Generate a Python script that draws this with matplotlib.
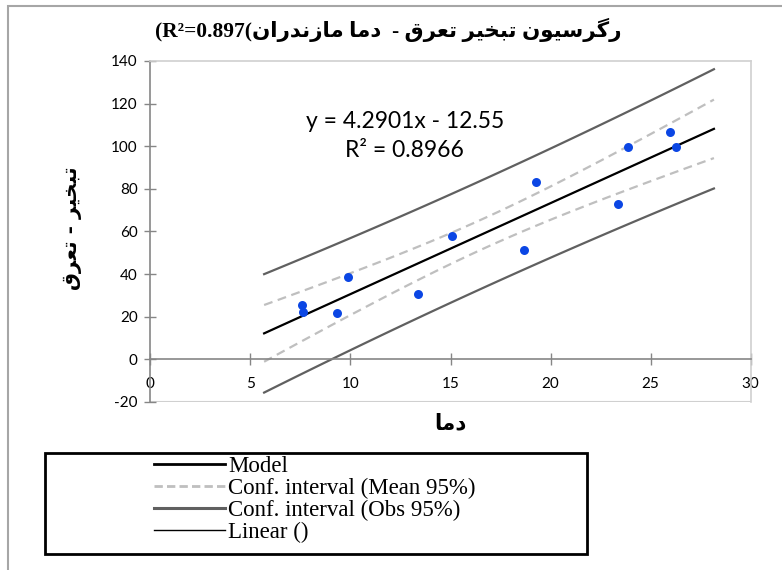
import numpy as np
import matplotlib.pyplot as plt
from matplotlib.lines import Line2D
from matplotlib.patches import Rectangle

plt.rcParams["axes.unicode_minus"] = False

# data (temperature vs evapotranspiration)
temp = [7.56, 7.64, 9.31, 9.88, 13.37, 15.07, 18.67, 19.27, 23.38, 23.88, 25.96, 26.29]
evap = [25.5, 22.3, 21.7, 38.6, 30.6, 57.9, 51.3, 83.2, 72.7, 99.8, 106.5, 99.8]

x_ticks = [0, 5, 10, 15, 20, 25, 30]
y_ticks = [-20, 0, 20, 40, 60, 80, 100, 120, 140]

eq_text = "y = 4.2901x - 12.55"
r2_text = "R² = 0.8966"
legend_labels = ["Model", "Conf. interval (Mean 95%)", "Conf. interval (Obs 95%)", "Linear ()"]

# persian words in presentation forms, visual order (left to right)
w_mazandaran = "\uFEE5\uFE8D\uFEAD\uFEAA\uFEE7\uFEAF\uFE8E\uFEE3"
w_dama = "\uFE8E\uFEE3\uFEA9"
w_taraq = "\uFED5\uFEAE\uFECC\uFE97"
w_tabkhir = "\uFEAE\uFEF4\uFEA8\uFE92\uFE97"
w_regresion = "\uFEE5\uFEEE\uFEF4\uFEB3\uFEAE\uFB94\uFEAD"

title = "(R²=0.897(" + w_mazandaran + " " + w_dama + "  - " + w_taraq + " " + w_tabkhir + " " + w_regresion
ylabel = w_taraq + " - " + w_tabkhir
xlabel = w_dama

# regression + confidence bands
x = np.array(temp)
y = np.array(evap)
n = len(x)
b, a = np.polyfit(x, y, 1)
resid = y - (a + b * x)
s = np.sqrt(np.sum(resid ** 2) / (n - 2))
sxx = np.sum((x - x.mean()) ** 2)
t = 2.228  # t(0.975, 10)
rng = x.max() - x.min()
xs = np.linspace(x.min() - 0.1 * rng, x.max() + 0.1 * rng, 100)
ys = a + b * xs
se_mean = s * np.sqrt(1 / n + (xs - x.mean()) ** 2 / sxx)
se_obs = s * np.sqrt(1 + 1 / n + (xs - x.mean()) ** 2 / sxx)

W, H = 782, 570
fig = plt.figure(figsize=(W / 100, H / 100), dpi=100)
ax = fig.add_axes([150.3 / W, 1 - 401.9 / H, (750.7 - 150.3) / W, (401.9 - 61) / H])

light = "#bfbfbf"
dark = "#606060"
ax.plot(xs, ys + t * se_obs, color=dark, lw=1.6, zorder=2)
ax.plot(xs, ys - t * se_obs, color=dark, lw=1.6, zorder=2)
ax.plot(xs, ys + t * se_mean, color=light, lw=1.6, ls=(0, (4, 2.5)), zorder=2)
ax.plot(xs, ys - t * se_mean, color=light, lw=1.6, ls=(0, (4, 2.5)), zorder=2)
ax.plot(xs, ys, color="black", lw=1.6, zorder=3)
ax.plot(xs, ys, color="black", lw=0.6, zorder=3)
ax.scatter(x, y, s=42, color="#0b46e4", zorder=4, linewidths=0)

ax.set_xlim(0, 30)
ax.set_ylim(-20, 140)
ax.set_xticks(x_ticks)
ax.set_yticks(y_ticks)

axis_col = "#868686"
ax.spines["bottom"].set_position(("data", 0))
ax.spines["bottom"].set_color(axis_col)
ax.spines["left"].set_color(axis_col)
ax.spines["top"].set_color("#d0d0d0")
ax.spines["right"].set_color("#d0d0d0")
ax.axhline(-20, color="#d0d0d0", lw=1.5, zorder=1)
for sp in ax.spines.values():
    sp.set_linewidth(1.2)
ax.tick_params(direction="inout", length=8, width=1, color=axis_col,
               labelsize=11, labelcolor="black")
ax.tick_params(axis="x", pad=9)
ax.tick_params(axis="y", pad=5)
for lab in ax.get_xticklabels() + ax.get_yticklabels():
    lab.set_fontfamily("Lato")

ax.text(0.424, 0.822, eq_text, transform=ax.transAxes, ha="center", va="center",
        fontsize=16.5, family="Lato")
ax.text(0.424, 0.737, r2_text, transform=ax.transAxes, ha="center", va="center",
        fontsize=16.5, family="Lato")

fig.text(388 / W, 1 - 30 / H, title, ha="center", va="center", fontsize=15.4,
         fontweight="bold", family=["Liberation Serif", "DejaVu Sans"])
fig.text(73 / W, 1 - 228 / H, ylabel, ha="center", va="center", rotation=90,
         fontsize=14.5, fontweight="bold", family=["DejaVu Sans"])
fig.text(450 / W, 1 - 423 / H, xlabel, ha="center", va="center",
         fontsize=15.5, fontweight="bold", family=["DejaVu Sans"])

# legend
handles = [
    Line2D([], [], color="black", lw=2),
    Line2D([], [], color=light, lw=2, ls=(0, (3, 1.5))),
    Line2D([], [], color=dark, lw=2.2),
    Line2D([], [], color="black", lw=1),
]
fig.legend(handles, legend_labels, loc="upper left", bbox_to_anchor=(154 / W, 1 - 456 / H),
           frameon=False, borderpad=0, borderaxespad=0, handlelength=3.1,
           handletextpad=0.13, labelspacing=0.03,
           prop={"family": "Liberation Serif", "size": 16.5})
fig.patches.append(Rectangle((45 / W, 1 - 554 / H), (587 - 45) / W, (554 - 453) / H,
                             transform=fig.transFigure, fill=False, lw=2, ec="black"))

# outer chart border
fig.patches.append(Rectangle((8 / W, -0.1), 1.2, 1.1 - 6 / H,
                             transform=fig.transFigure, fill=False, lw=1.5, ec="#a6a6a6"))

fig.savefig("out.png", dpi=100)
